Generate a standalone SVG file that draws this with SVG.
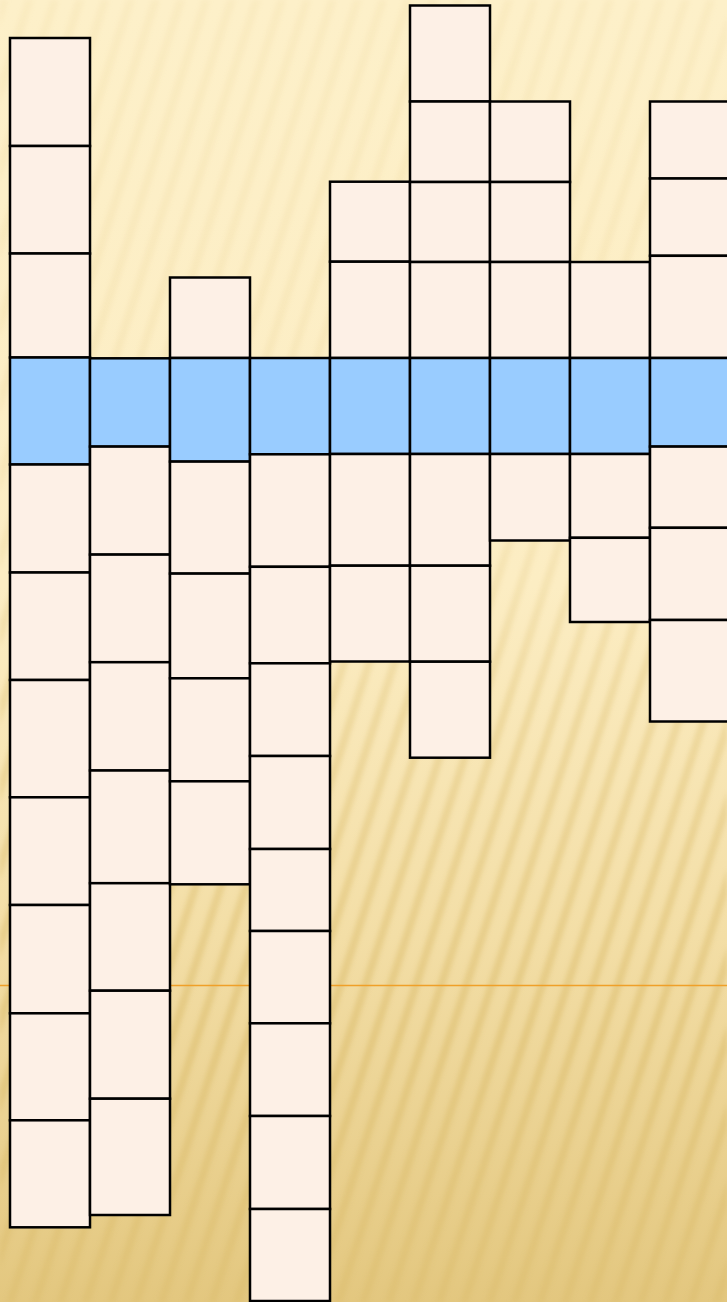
<svg xmlns="http://www.w3.org/2000/svg" width="727" height="1302" viewBox="0 0 727 1302">
<style>
.c{fill:#FDF0E6;stroke:#000;stroke-width:2.5}
.b{fill:#99CCFF;stroke:#000;stroke-width:2.5}
</style>
<defs>
<linearGradient id="bg" x1="0" y1="0" x2="0" y2="1">
<stop offset="0" stop-color="#FDF0C9"/>
<stop offset="0.45" stop-color="#FCEDC3"/>
<stop offset="0.72" stop-color="#F3DEA6"/>
<stop offset="1" stop-color="#E3C77F"/>
</linearGradient>
<pattern id="st" width="24" height="40" patternUnits="userSpaceOnUse" patternTransform="rotate(18)">
<rect x="0" y="0" width="8" height="40" fill="#D8B865"/>
</pattern>
<filter id="bl" x="0" y="0" width="1" height="1"><feGaussianBlur stdDeviation="2.2"/></filter>
<linearGradient id="mg" x1="0" y1="0" x2="0" y2="1">
<stop offset="0" stop-color="#fff" stop-opacity="0.08"/>
<stop offset="0.4" stop-color="#fff" stop-opacity="0.12"/>
<stop offset="0.55" stop-color="#fff" stop-opacity="0.3"/>
<stop offset="0.8" stop-color="#fff" stop-opacity="0.45"/>
<stop offset="1" stop-color="#fff" stop-opacity="0.3"/>
</linearGradient>
<mask id="m"><rect width="727" height="1302" fill="url(#mg)"/></mask>
</defs>
<rect width="727" height="1302" fill="url(#bg)"/>
<g mask="url(#m)"><rect width="727" height="1302" fill="url(#st)" filter="url(#bl)"/></g>
<line x1="0" y1="985.5" x2="727" y2="985.5" stroke="#F0A028" stroke-width="1.6"/>
<g id="col1">
<rect class="c" x="10" y="38" width="80" height="108"/>
<rect class="c" x="10" y="146" width="80" height="107.5"/>
<rect class="c" x="10" y="253.5" width="80" height="104"/>
<rect class="b" x="10" y="357.5" width="80" height="107"/>
<rect class="c" x="10" y="464.5" width="80" height="108"/>
<rect class="c" x="10" y="572.5" width="80" height="107.5"/>
<rect class="c" x="10" y="680" width="80" height="117.3"/>
<rect class="c" x="10" y="797.3" width="80" height="107.7"/>
<rect class="c" x="10" y="905" width="80" height="108.3"/>
<rect class="c" x="10" y="1013.3" width="80" height="107"/>
<rect class="c" x="10" y="1120.3" width="80" height="107"/>
</g>
<g id="col2">
<rect class="b" x="90" y="358.3" width="80" height="88.3"/>
<rect class="c" x="90" y="446.6" width="80" height="108"/>
<rect class="c" x="90" y="554.6" width="80" height="107.6"/>
<rect class="c" x="90" y="662.2" width="80" height="108.3"/>
<rect class="c" x="90" y="770.5" width="80" height="112.7"/>
<rect class="c" x="90" y="883.2" width="80" height="107.5"/>
<rect class="c" x="90" y="990.7" width="80" height="108"/>
<rect class="c" x="90" y="1098.7" width="80" height="116.3"/>
</g>
<g id="col3">
<rect class="c" x="170" y="277.5" width="80" height="80.5"/>
<rect class="b" x="170" y="358" width="80" height="103.6"/>
<rect class="c" x="170" y="461.6" width="80" height="112"/>
<rect class="c" x="170" y="573.6" width="80" height="104.7"/>
<rect class="c" x="170" y="678.3" width="80" height="103"/>
<rect class="c" x="170" y="781.3" width="80" height="103"/>
</g>
<g id="col4">
<rect class="b" x="250" y="358" width="80" height="96.3"/>
<rect class="c" x="250" y="454.3" width="80" height="112.5"/>
<rect class="c" x="250" y="566.8" width="80" height="96.5"/>
<rect class="c" x="250" y="663.3" width="80" height="92.7"/>
<rect class="c" x="250" y="756" width="80" height="93"/>
<rect class="c" x="250" y="849" width="80" height="82"/>
<rect class="c" x="250" y="931" width="80" height="92.3"/>
<rect class="c" x="250" y="1023.3" width="80" height="92.7"/>
<rect class="c" x="250" y="1116" width="80" height="93"/>
<rect class="c" x="250" y="1209" width="80" height="92"/>
</g>
<g id="col5">
<rect class="c" x="330" y="181.7" width="80" height="80"/>
<rect class="c" x="330" y="261.7" width="80" height="96.3"/>
<rect class="b" x="330" y="358" width="80" height="96"/>
<rect class="c" x="330" y="454" width="80" height="111.7"/>
<rect class="c" x="330" y="565.7" width="80" height="95.8"/>
</g>
<g id="col6">
<rect class="c" x="410" y="5.5" width="80" height="96"/>
<rect class="c" x="410" y="101.5" width="80" height="80.5"/>
<rect class="c" x="410" y="182" width="80" height="80"/>
<rect class="c" x="410" y="262" width="80" height="96"/>
<rect class="b" x="410" y="358" width="80" height="96"/>
<rect class="c" x="410" y="454" width="80" height="111.7"/>
<rect class="c" x="410" y="565.7" width="80" height="96"/>
<rect class="c" x="410" y="661.7" width="80" height="96"/>
</g>
<g id="col7">
<rect class="c" x="490" y="101.5" width="80" height="80.5"/>
<rect class="c" x="490" y="182" width="80" height="80"/>
<rect class="c" x="490" y="262" width="80" height="96"/>
<rect class="b" x="490" y="358" width="80" height="96"/>
<rect class="c" x="490" y="454" width="80" height="86.5"/>
</g>
<g id="col8">
<rect class="c" x="570" y="262" width="80" height="96"/>
<rect class="b" x="570" y="358" width="80" height="96"/>
<rect class="c" x="570" y="454" width="80" height="83.8"/>
<rect class="c" x="570" y="537.8" width="80" height="84.2"/>
</g>
<g id="col9">
<rect class="c" x="650" y="101.5" width="82" height="77"/>
<rect class="c" x="650" y="178.5" width="82" height="77.3"/>
<rect class="c" x="650" y="255.8" width="82" height="102.2"/>
<rect class="b" x="650" y="358" width="82" height="88.6"/>
<rect class="c" x="650" y="446.6" width="82" height="81.2"/>
<rect class="c" x="650" y="527.8" width="82" height="92.2"/>
<rect class="c" x="650" y="620" width="82" height="101.5"/>
</g>
<g id="connectors"/>
</svg>
